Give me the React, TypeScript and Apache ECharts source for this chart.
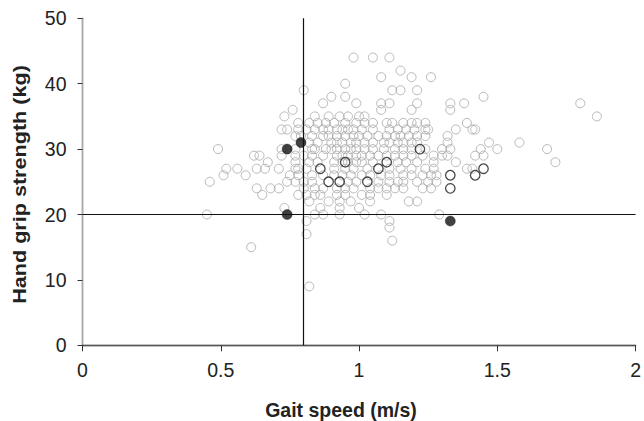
import React, { useEffect, useRef } from "react";
import * as echarts from "echarts";

// Axis ticks
const xTicks = [0, 0.5, 1, 1.5, 2];
const yTicks = [0, 10, 20, 30, 40, 50];

// Cut-off reference lines
const gaitCutoff = 0.8;
const gripCutoff = 20;

// Gray open circles: hand grip strength (kg) -> gait speeds (m/s)
const grayRows: [number, number[]][] = [
  [44, [0.98, 1.05, 1.11]],
  [42, [1.15]],
  [41, [1.08, 1.19, 1.26]],
  [40, [0.95]],
  [39, [0.8, 1.12, 1.15, 1.21]],
  [38, [0.9, 0.95, 1.45]],
  [37, [0.87, 0.99, 1.08, 1.11, 1.21, 1.33, 1.38, 1.8]],
  [36, [0.76, 1.08, 1.19, 1.33]],
  [35, [0.73, 0.84, 0.89, 0.93, 0.96, 1.0, 1.02, 1.86]],
  [34, [0.78, 0.82, 0.85, 0.88, 0.91, 0.95, 0.99, 1.02, 1.05, 1.1, 1.12, 1.16, 1.19, 1.21, 1.24, 1.39]],
  [33, [0.72, 0.74, 0.78, 0.81, 0.84, 0.87, 0.89, 0.92, 0.94, 0.96, 0.98, 1.01, 1.05, 1.11, 1.14, 1.17, 1.2, 1.24, 1.25, 1.35, 1.41, 1.42]],
  [32, [0.77, 0.79, 0.83, 0.87, 0.89, 0.92, 0.95, 0.98, 1.0, 1.03, 1.07, 1.1, 1.13, 1.15, 1.18, 1.21, 1.24, 1.32]],
  [31, [0.82, 0.85, 0.9, 0.92, 0.94, 0.97, 0.99, 1.02, 1.05, 1.09, 1.11, 1.14, 1.16, 1.19, 1.21, 1.32, 1.47, 1.58]],
  [30, [0.49, 0.72, 0.77, 0.83, 0.84, 0.88, 0.9, 0.92, 0.95, 0.97, 0.99, 1.02, 1.05, 1.09, 1.13, 1.16, 1.19, 1.24, 1.3, 1.33, 1.44, 1.5, 1.68]],
  [29, [0.62, 0.64, 0.72, 0.77, 0.8, 0.83, 0.87, 0.92, 0.94, 0.96, 0.99, 1.01, 1.04, 1.07, 1.1, 1.13, 1.16, 1.19, 1.23, 1.27, 1.3, 1.32, 1.42, 1.45]],
  [28, [0.67, 0.77, 0.82, 0.85, 0.91, 0.94, 0.96, 0.99, 1.01, 1.05, 1.14, 1.17, 1.21, 1.27, 1.35, 1.71]],
  [27, [0.52, 0.56, 0.63, 0.66, 0.71, 0.77, 0.78, 0.81, 0.91, 0.95, 0.98, 1.03, 1.11, 1.15, 1.19, 1.24, 1.27, 1.39, 1.41]],
  [26, [0.51, 0.59, 0.75, 0.78, 0.83, 0.87, 0.91, 0.94, 0.97, 1.01, 1.04, 1.08, 1.11, 1.16, 1.19, 1.23, 1.26, 1.28]],
  [25, [0.46, 0.74, 0.77, 0.8, 0.83, 0.96, 0.99, 1.07, 1.11, 1.14, 1.16, 1.21, 1.25, 1.28]],
  [24, [0.63, 0.68, 0.71, 0.8, 0.84, 0.87, 0.92, 0.95, 0.98, 1.04, 1.07, 1.1, 1.13, 1.16, 1.23, 1.26]],
  [23, [0.65, 0.78, 0.81, 0.84, 0.86, 0.92, 0.95, 1.01, 1.04, 1.1]],
  [22, [0.82, 0.89, 0.93, 0.97, 1.04, 1.18, 1.21]],
  [21, [0.73, 0.86, 0.93, 1.0]],
  [20, [0.45, 0.84, 0.87, 0.93, 1.02, 1.08, 1.29]],
  [19, [0.81, 1.11]],
  [18, [1.11]],
  [17, [0.81]],
  [16, [1.12]],
  [15, [0.61]],
  [9, [0.82]],
];

// Black open circles [gait speed, grip strength]
const openBlack: [number, number][] = [
  [0.86, 27], [0.89, 25], [0.93, 25], [0.95, 28], [1.03, 25], [1.07, 27],
  [1.1, 28], [1.22, 30], [1.33, 26], [1.33, 24], [1.42, 26], [1.45, 27],
];

// Black filled circles [gait speed, grip strength]
const filledBlack: [number, number][] = [
  [0.74, 30], [0.79, 31], [0.74, 20], [1.33, 19],
];

const FONT = "'Liberation Sans', Arial, Helvetica, sans-serif";

export default function App() {
  const ref = useRef<HTMLDivElement>(null);
  useEffect(() => {
    if (!ref.current) return;
    const chart = echarts.init(ref.current, null, { renderer: "svg" });
    const grayData: [number, number][] = [];
    grayRows.forEach(([y, xs]) => xs.forEach((x) => grayData.push([x, y])));

    const labelStyle = { color: "#222", fontSize: 19.5, fontFamily: FONT };
    chart.setOption({
      animation: false,
      backgroundColor: "#fff",
      grid: { left: 82.5, right: 6.5, top: 18.3, bottom: 75.7, containLabel: false },
      xAxis: [
        {
          type: "value",
          min: xTicks[0],
          max: xTicks[xTicks.length - 1],
          interval: 0.5,
          axisLine: { show: true, onZero: false, lineStyle: { color: "#111", width: 1.3 } },
          axisTick: { show: true, inside: false, length: 6, lineStyle: { color: "#333" } },
          axisLabel: { ...labelStyle, margin: 15, formatter: (v: number) => String(v) },
          splitLine: { show: false },
        },
        {
          type: "value",
          position: "top",
          min: 0,
          max: 2,
          axisLine: { show: true, lineStyle: { color: "#555", width: 1 } },
          axisTick: { show: false },
          axisLabel: { show: false },
          splitLine: { show: false },
        },
      ],
      yAxis: [
        {
          type: "value",
          min: yTicks[0],
          max: yTicks[yTicks.length - 1],
          interval: 10,
          axisLine: { show: true, onZero: false, lineStyle: { color: "#111", width: 1.3 } },
          axisTick: { show: true, inside: false, length: 5, lineStyle: { color: "#333" } },
          axisLabel: { ...labelStyle, margin: 16 },
          splitLine: { show: false },
        },
        {
          type: "value",
          position: "right",
          min: 0,
          max: 50,
          axisLine: { show: true, lineStyle: { color: "#aaa", width: 1 } },
          axisTick: { show: false },
          axisLabel: { show: false },
          splitLine: { show: false },
        },
      ],
      series: [
        {
          type: "scatter",
          name: "gray",
          data: grayData,
          symbol: "circle",
          symbolSize: 9,
          itemStyle: { color: "rgba(0,0,0,0)", borderColor: "#a8a8a8", borderWidth: 1 },
          z: 2,
          markLine: {
            silent: true,
            symbol: "none",
            label: { show: false },
            lineStyle: { color: "#111", width: 1.2, type: "solid" },
            data: [{ xAxis: gaitCutoff }, { yAxis: gripCutoff }],
          },
        },
        {
          type: "scatter",
          name: "open",
          data: openBlack,
          symbol: "circle",
          symbolSize: 9.5,
          itemStyle: { color: "rgba(0,0,0,0)", borderColor: "#1a1a1a", borderWidth: 1.3 },
          z: 3,
        },
        {
          type: "scatter",
          name: "filled",
          data: filledBlack,
          symbol: "circle",
          symbolSize: 10,
          itemStyle: { color: "#111", borderColor: "#111", borderWidth: 0.5 },
          z: 4,
        },
      ],
      graphic: [
        {
          type: "text",
          x: 341,
          y: 410,
          style: {
            text: "Gait speed (m/s)",
            fontSize: 19.5,
            fontWeight: "bold",
            fontFamily: FONT,
            fill: "#222",
            align: "center",
            verticalAlign: "middle",
          },
        },
        {
          type: "text",
          x: 20,
          y: 184.5,
          rotation: Math.PI / 2,
          scaleX: 1.2,
          style: {
            text: "Hand grip strength (kg)",
            fontSize: 18,
            fontWeight: "bold",
            fontFamily: FONT,
            fill: "#222",
            align: "center",
            verticalAlign: "middle",
          },
        },
      ],
    });
    return () => chart.dispose();
  }, []);
  return (
    <div
      ref={ref}
      style={{ position: "fixed", left: 0, top: 0, width: 644, height: 421, background: "#fff" }}
    />
  );
}
